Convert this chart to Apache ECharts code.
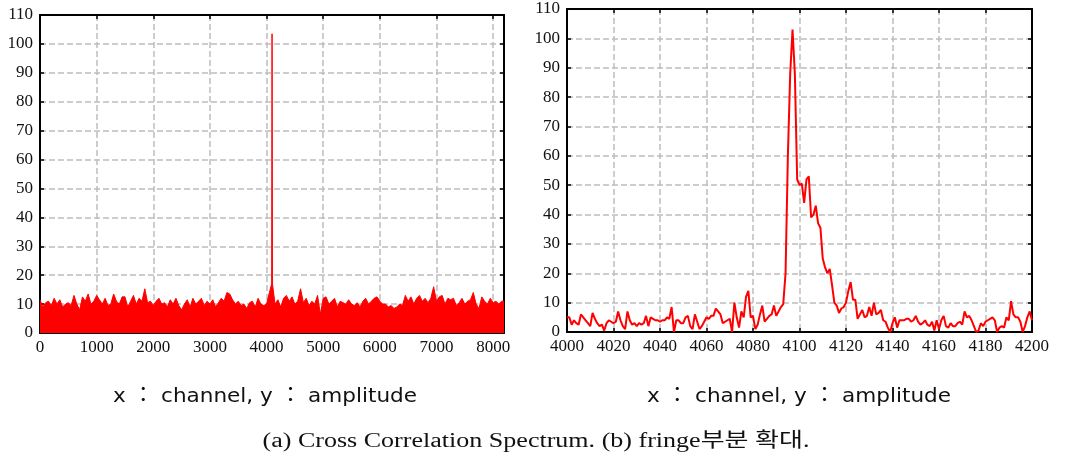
<!DOCTYPE html>
<html>
<head>
<meta charset="utf-8">
<script src="https://cdn.jsdelivr.net/npm/echarts@6/dist/echarts.min.js"></script>
<style>
html,body{margin:0;padding:0;background:#fff;}
#chart{width:1065px;height:459px;}
</style>
</head>
<body>
<div id="chart"></div>
<script>
// ---------- DATA ----------
// (a) overview: upper envelope of the cross-correlation amplitude, sampled every 50 channels
const overviewAmpA = [
  11.5, 9, 10.5, 11, 9.5, 12, 10, 11.5, 9, 10,
  10.5, 9.5, 13, 10, 8, 12.5, 11, 13.5, 10, 11,
  13, 11.5, 10, 12, 9.5, 10, 13.5, 11, 10, 12.5,
  12.5, 9, 11, 13, 10, 12, 11, 15.3, 10.5, 11,
  9.5, 11, 12, 10, 10.5, 9, 11.5, 10, 12, 9.5,
  8, 10, 11.5, 9, 12, 10, 11, 12, 9.5, 11,
  10, 11.5, 9, 10.5, 12, 11, 14, 13.5, 11.5, 10,
  11, 9.5, 10, 8.5, 10.5, 11, 9, 12, 10, 9.5,
  10, 14
];
const spikeChannels = [4090, 4097, 4104];
const spikeAmp = [17, 103.5, 17];
const overviewAmpB = [
  10, 11.5, 9, 12, 13, 11, 12.5,
  10, 11, 15.3, 10.5, 12, 9.5, 11, 10, 13, 6.5,
  12, 12.5, 10, 11, 12, 9, 11, 10.5, 10, 11.5,
  10, 9.5, 10.5, 9, 11, 12, 10, 11, 12, 12.5,
  11, 10, 10, 9, 9.5, 8.5, 9, 10, 9.5, 13,
  11, 12.5, 10, 12, 13, 11, 12, 10.5, 12, 16,
  11, 12.5, 13, 10, 12, 11.5, 12, 9.5, 10.5, 12,
  10, 11, 11.5, 14, 10, 8.5, 12.5, 11, 10, 12,
  10.5, 11, 10, 11
];
const lastChannel = 8192;
const lastAmp = 11;

// (b) fringe zoom: channels 4000..4200
const zoomStart = 4000;
const zoomAmp = [
  5, 5, 2.5, 4, 3, 2.5, 6, 5, 4, 3,
  2, 6.5, 4.5, 3, 2, 2.5, 0.5, 3, 4, 3.5,
  3, 3.5, 7, 4, 2, 1, 7, 4, 2.5, 3,
  2, 3, 2.5, 3, 5.5, 2, 5, 4.5, 4, 4,
  3.5, 4, 4, 5, 4.5, 8.5, 0, 4, 4, 3,
  3, 5, 5.5, 2, 1, 6, 3.5, 1, 2, 3.5,
  5, 4.5, 5.5, 5.5, 8, 7, 6, 3, 3.5, 4,
  4.5, 0, 10, 5, 1.5, 7, 5, 12, 14, 5,
  5.5, 1, 2.5, 6, 9, 3.5, 4.5, 5.5, 6, 9,
  5.5, 7, 8.5, 9.5, 20, 60, 88, 103, 88, 52,
  50, 50.5, 44, 52, 53, 39, 40, 43, 37, 35.5,
  25, 22, 20, 21.5, 16, 10, 9, 6.5, 8, 8.5,
  10, 14, 17, 11, 11, 4.5, 6, 7.5, 5, 5.5,
  8.5, 5.5, 10, 6, 6.5, 7.5, 4, 3.5, 1.5, 0,
  3, 5, 1.5, 4, 4, 4, 4.5, 4.5, 3.5, 4,
  5.5, 3.5, 2.5, 3, 4, 2.5, 2, 3.5, 0.5, 4,
  1, 4, 5.5, 2, 1.5, 3, 2, 2, 3, 3.5,
  2.5, 7, 5, 5.5, 4, 2, 0, 0.5, 3, 2,
  3.5, 4, 4.5, 5, 4, 0, 1.5, 2, 1.5, 5,
  4, 10.5, 6, 5, 5, 3.5, 0, 2, 5, 7,
  4
];

const yTicks = {min: 0, max: 110, interval: 10};
const leftX = {min: 0, max: 8192, interval: 1000};
const rightX = {min: 4000, max: 4200, interval: 20};

const captionAxes = 'x ： channel, y ： amplitude';
const captionMain = '(a) Cross Correlation Spectrum. (b) fringe부분 확대.';

// ---------- BUILD ----------
const overviewData = [];
overviewAmpA.forEach((v, i) => overviewData.push([i * 50, v]));
spikeChannels.forEach((c, i) => overviewData.push([c, spikeAmp[i]]));
overviewAmpB.forEach((v, i) => overviewData.push([4150 + i * 50, v]));
overviewData.push([lastChannel, lastAmp]);

const zoomData = zoomAmp.map((v, i) => [zoomStart + i, v]);

const labelFont = {fontFamily: '"Liberation Serif", "Times New Roman", serif', fontSize: 17, color: '#111'};
const splitLine = {show: true, lineStyle: {color: '#bdbdbd', width: 1.5, type: [6, 3]}};
const axisLine = {show: true, onZero: false, lineStyle: {color: '#000', width: 2}};
const axisTick = {show: true, inside: true, length: 4, lineStyle: {color: '#000', width: 1.5}};

function xAxisPair(gridIndex, ext, fmt) {
  return [
    Object.assign({type: 'value', gridIndex, position: 'bottom', axisLine, axisTick, splitLine,
      axisLabel: Object.assign({margin: 6, formatter: fmt}, labelFont)}, ext),
    Object.assign({type: 'value', gridIndex, position: 'top', axisLine, axisTick,
      splitLine: {show: false}, axisLabel: {show: false}}, ext)
  ];
}
function yAxisPair(gridIndex) {
  return [
    Object.assign({type: 'value', gridIndex, position: 'left', axisLine, axisTick, splitLine,
      axisLabel: Object.assign({margin: 7}, labelFont)}, yTicks),
    Object.assign({type: 'value', gridIndex, position: 'right', axisLine, axisTick,
      splitLine: {show: false}, axisLabel: {show: false}}, yTicks)
  ];
}

// caption scaling so that text spans the same width as in the reference
const ctx = document.createElement('canvas').getContext('2d');
function measure(font, text) { ctx.font = font; return ctx.measureText(text).width; }
const capFont = '20px "DejaVu Sans", "Noto Sans CJK KR", sans-serif';
const mainFont = '20px "Liberation Serif", "Noto Sans CJK KR", serif';
const capScale = 304 / measure(capFont, captionAxes);
const mainScale = 547 / measure(mainFont, captionMain);

function caption(x, y, text, font, sx) {
  return {type: 'text', x, y, scaleX: sx, silent: true,
    style: {text, font, fill: '#111', align: 'center', verticalAlign: 'middle',
      textAlign: 'center', textVerticalAlign: 'middle'}};
}

const chart = echarts.init(document.getElementById('chart'), null, {renderer: 'canvas'});
chart.setOption({
  animation: false,
  backgroundColor: '#fff',
  grid: [
    {left: 40, top: 15, width: 464, height: 318, show: false},
    {left: 567, top: 9, width: 465, height: 323, show: false}
  ],
  xAxis: [].concat(
    xAxisPair(0, leftX, v => (v % 1000 === 0 ? String(v) : '')),
    xAxisPair(1, rightX, v => String(v))
  ),
  yAxis: [].concat(yAxisPair(0), yAxisPair(1)),
  series: [
    {type: 'line', xAxisIndex: 0, yAxisIndex: 0, data: overviewData, symbol: 'none',
      lineStyle: {color: '#ff0000', width: 1}, areaStyle: {color: '#ff0000', opacity: 1, origin: 'start'},
      itemStyle: {color: '#ff0000'}, z: 3},
    {type: 'line', xAxisIndex: 2, yAxisIndex: 2, data: zoomData, symbol: 'none',
      lineStyle: {color: '#ff0000', width: 2}, itemStyle: {color: '#ff0000'}, z: 3}
  ],
  graphic: [
    caption(265, 397, captionAxes, capFont, capScale),
    caption(799, 397, captionAxes, capFont, capScale),
    caption(536, 442, captionMain, mainFont, mainScale)
  ]
});
</script>
</body>
</html>
